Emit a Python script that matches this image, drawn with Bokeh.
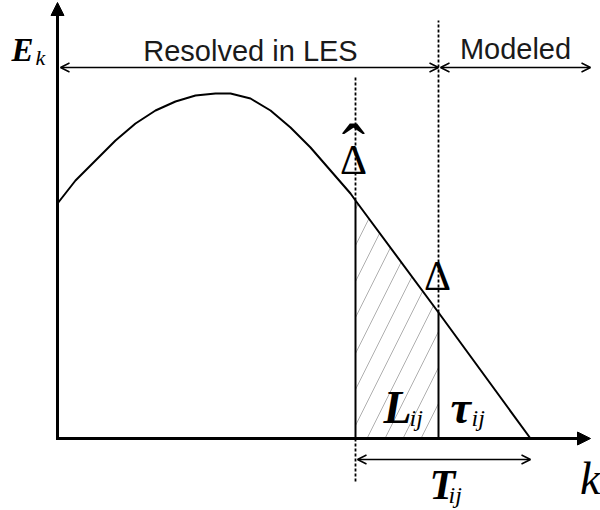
import numpy as np
from bokeh.plotting import figure
from bokeh.models import Range1d, Arrow, NormalHead, OpenHead, Label
from bokeh.embed import file_html
from bokeh.resources import INLINE

# ---- data (diagram units: wavenumber k, energy E_k) ----
k_vals = [0, 18, 38, 58, 78, 98, 118, 138, 158, 173, 193, 213, 233, 253, 273, 293, 298, 381, 473]
E_vals = [235, 258, 278, 298, 315, 328, 337, 343, 345, 345, 340, 328, 311, 291, 268, 245, 238, 126, 0]
k_test = 298      # test-filter cutoff (Delta hat)
k_grid = 381      # grid-filter cutoff (Delta)
k_axis_max = 533
E_axis_max = 436
region_labels = ["Resolved in LES", "Modeled"]

k_arr = np.array(k_vals, dtype=float)
E_arr = np.array(E_vals, dtype=float)
E_test = float(np.interp(k_test, k_arr, E_arr))
E_grid = float(np.interp(k_grid, k_arr, E_arr))
k_end = k_vals[-1]

p = figure(width=600, height=510, x_range=Range1d(-57, 543), y_range=Range1d(-72, 438),
           min_border=0, toolbar_location=None, output_backend="svg",
           x_axis_location=None, y_axis_location=None)
p.grid.visible = False
p.outline_line_color = None
p.background_fill_color = "white"
p.border_fill_color = "white"

# hatched region between the two filters (Leonard stress)
mask = (k_arr >= k_test) & (k_arr <= k_grid)
hx = [k_test] + list(k_arr[mask]) + [k_grid, k_grid]
hy = [0] + list(E_arr[mask]) + [E_grid, 0]
p.patch(hx, hy, fill_color=None, line_color=None,
        hatch_pattern="/", hatch_color="#9a9a9a", hatch_weight=0.8, hatch_scale=36)

# spectrum curve
p.line(k_vals, E_vals, line_color="black", line_width=2)

# solid filter lines under the curve
p.segment(x0=[k_test, k_grid], y0=[0, 0], x1=[k_test, k_grid], y1=[E_test, E_grid],
          line_color="black", line_width=2)

# dotted filter lines
p.segment(x0=[k_test, k_test, k_grid], y0=[E_test, 0, E_grid],
          x1=[k_test, k_test, k_grid], y1=[363, -45, 418],
          line_color="black", line_width=1.8, line_dash="3 2")

# axes with arrows
p.add_layout(Arrow(x_start=0, y_start=-1.5, x_end=0, y_end=E_axis_max, line_width=3,
                   end=NormalHead(size=13, fill_color="black", line_color="black", line_width=1)))
p.add_layout(Arrow(x_start=-1.5, y_start=0, x_end=k_axis_max, y_end=0, line_width=3,
                   end=NormalHead(size=13, fill_color="black", line_color="black", line_width=1)))

def dbl_arrow(x0, x1, y):
    p.add_layout(Arrow(x_start=x0, y_start=y, x_end=x1, y_end=y, line_width=1.5,
                       start=OpenHead(size=9, line_width=1.5),
                       end=OpenHead(size=9, line_width=1.5)))

dbl_arrow(3, k_grid, 371)
dbl_arrow(k_grid + 2, k_axis_max, 371)
dbl_arrow(k_test + 2, k_end, -21)

def lab(x, y, text, size, font="Liberation Serif", style="normal", align="left", color="black"):
    p.add_layout(Label(x=x, y=y, text=text, text_font=font, text_font_style=style,
                       text_font_size=f"{size}px", text_align=align,
                       text_baseline="alphabetic", text_color=color))

lab(193, 388, region_labels[0], 29, font="Liberation Sans", align="center", color="#1a1a1a")
lab(458, 390, region_labels[1], 29, font="Liberation Sans", align="center", color="#1a1a1a")

lab(-46, 389, "E", 33, style="bold italic")
lab(-22, 381, "k", 22, style="italic")

lab(k_test - 2, 290, "\u02c6", 70, align="center")
lab(k_test - 2, 279, "\u0394", 42, align="center")
lab(k_grid - 1, 163, "\u0394", 42, align="center")

lab(326, 31, "L", 46, style="bold italic")
lab(352, 21, "ij", 24, style="italic")
lab(393, 31, "\u03c4", 46, style="bold italic")
lab(414, 21, "ij", 24, style="italic")
lab(372, -46, "T", 42, style="bold italic")
lab(391, -56, "ij", 24, style="italic")
lab(543, -40, "k", 46, style="italic", align="right")

open("out.html", "w").write(file_html(p, INLINE))
